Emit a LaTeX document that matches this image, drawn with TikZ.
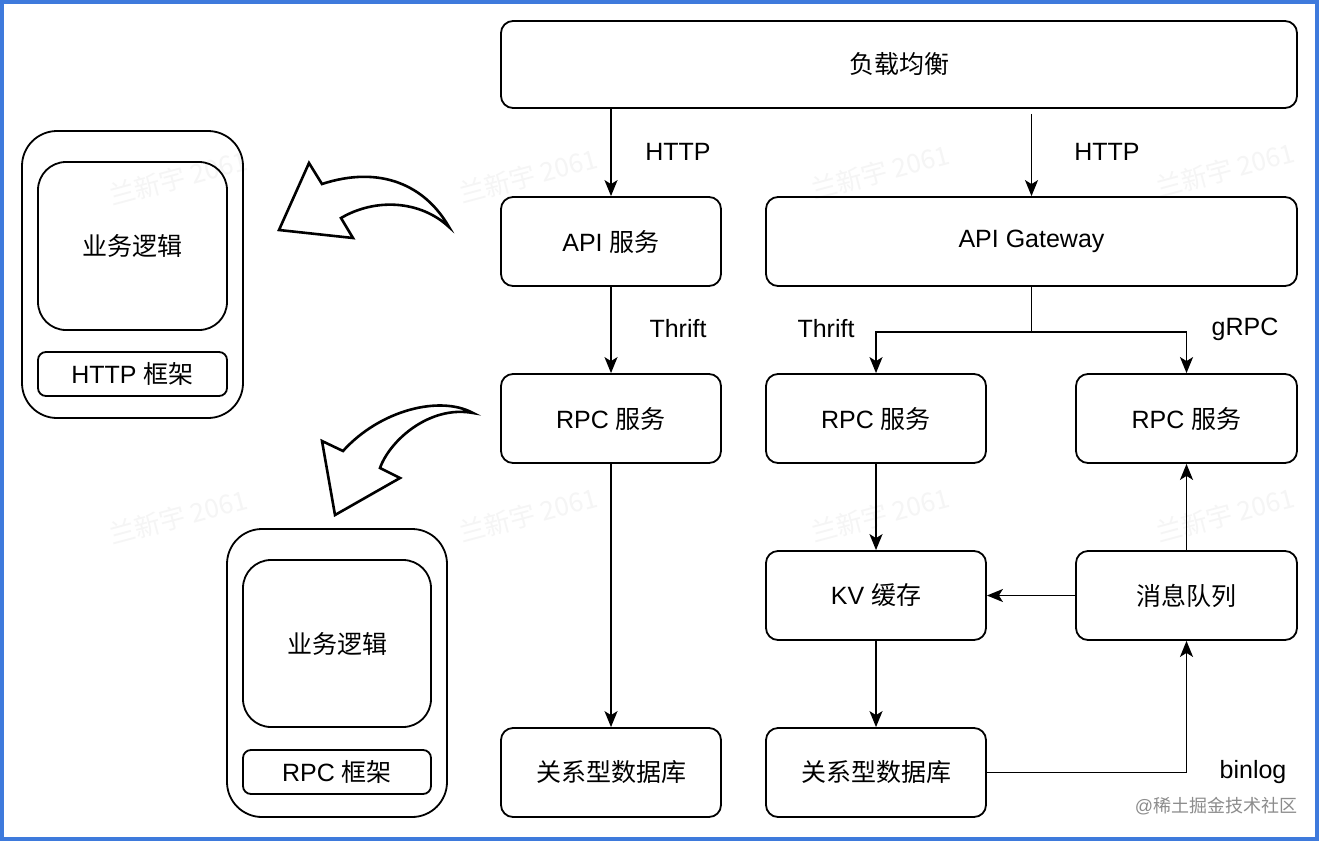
\documentclass[tikz,border=0pt]{standalone}
\usepackage{fontspec}
\setmainfont{Liberation Sans}
\newfontfamily\cjk{Noto Sans CJK SC}
\usetikzlibrary{arrows.meta}
\definecolor{frameblue}{RGB}{62,122,220}
\begin{document}
\begin{tikzpicture}[x=1pt,y=-1pt,
  txt/.style={font=\fontsize{25}{30}\selectfont},
  box/.style={draw, rounded corners=12pt, line width=1.8pt, minimum width=220pt, minimum height=89pt, inner sep=0pt, txt},
  arr/.style={-{Stealth[length=16pt,width=13pt,inset=4pt]}, line width=1.7pt},
  lbl/.style={txt, inner sep=0pt},
  wm/.style={font=\fontsize{26}{30}\selectfont\cjk, text=black!4, rotate=15},
  bigarrow/.style={draw, fill=white, line width=2.6pt, line join=miter},
]
\useasboundingbox (0,0) rectangle (1319,841);
\fill[white] (0,0) rectangle (1319,841);
% watermarks
\foreach \x/\y in {178/178, 528/176, 880/172, 1225/170, 178/517, 528/515, 880/515, 1225/515}
  \node[wm] (w\x\y) at (\x,\y) {兰新宇 2061};
% main boxes
\node[box, minimum width=796pt, minimum height=87pt] (lb) at (899,64.5) {\cjk 负载均衡};
\node[box] (api) at (611,241.5) {API {\cjk 服务}};
\node[box, minimum width=531pt] (gw) at (1031.5,241.5) {API Gateway};
\node[box] (rpc1) at (611,418.5) {RPC {\cjk 服务}};
\node[box] (rpc2) at (876,418.5) {RPC {\cjk 服务}};
\node[box, minimum width=221pt] (rpc3) at (1186.5,418.5) {RPC {\cjk 服务}};
\node[box] (kv) at (876,595.5) {KV {\cjk 缓存}};
\node[box, minimum width=221pt] (mq) at (1186.5,595.5) {\cjk 消息队列};
\node[box] (db1) at (611,772.5) {\cjk 关系型数据库};
\node[box] (db2) at (876,772.5) {\cjk 关系型数据库};
% connectors
\draw[arr] (lb.south -| api.north) -- (api.north);
\draw[arr] ([yshift=-5pt]lb.south -| gw.north) -- (gw.north);
\draw[arr] (api) -- (rpc1);
\draw[arr] (gw.south) -- ++(0,45) coordinate (split) -| (rpc2.north);
\draw[arr] (split) -| (rpc3.north);
\draw[arr] (rpc1) -- (db1);
\draw[arr] (rpc2) -- (kv);
\draw[arr] (kv) -- (db2);
\draw[arr] (mq) -- (kv);
\draw[arr] (mq) -- (rpc3);
\draw[arr] (db2.east) -| (mq.south);
% labels
\node[lbl] (l1) at (678,152) {HTTP};
\node[lbl] (l2) at (1107,152) {HTTP};
\node[lbl] (l3) at (678,329) {Thrift};
\node[lbl] (l4) at (826,329) {Thrift};
\node[lbl] (l5) at (1245,329) {gRPC};
\node[lbl] (l6) at (1253,772) {binlog};
% left containers
\node[draw, rounded corners=35pt, line width=1.8pt, minimum width=221pt, minimum height=287pt] (c1) at (132.5,274.5) {};
\node[draw, rounded corners=28pt, line width=1.8pt, minimum width=189pt, minimum height=168pt, txt] (b1) at (132.5,246) {\cjk 业务逻辑};
\node[draw, rounded corners=8pt, line width=1.8pt, minimum width=189pt, minimum height=44pt, inner sep=0pt, txt] (f1) at (132.5,374) {HTTP {\cjk 框架}};
\node[draw, rounded corners=35pt, line width=1.8pt, minimum width=220pt, minimum height=288pt] (c2) at (337,673) {};
\node[draw, rounded corners=28pt, line width=1.8pt, minimum width=188pt, minimum height=167pt, txt] (b2) at (337,643.5) {\cjk 业务逻辑};
\node[draw, rounded corners=8pt, line width=1.8pt, minimum width=188pt, minimum height=44pt, inner sep=0pt, txt] (f2) at (337,772) {RPC {\cjk 框架}};
% curved block arrows
\draw[bigarrow] (449,227) .. controls (425,185) and (380,165) .. (322,184)
  -- (309,163) -- (279,230) -- (353,238) -- (341,218)
  .. controls (375,198) and (420,200) .. cycle;
\draw[bigarrow] (473,413) .. controls (440,395) and (380,410) .. (343,451)
  -- (322,441) -- (335,515) -- (400,478) -- (380,468)
  .. controls (390,440) and (430,405) .. cycle;
% credit
\node[font=\fontsize{18}{22}\selectfont, text=black!45, inner sep=0pt] (cr) at (1216,806) {@{\cjk 稀土掘金技术社区}};
% frame
\draw[frameblue, line width=4pt] (2,2) rectangle (1317,839);
\end{tikzpicture}
\end{document}
